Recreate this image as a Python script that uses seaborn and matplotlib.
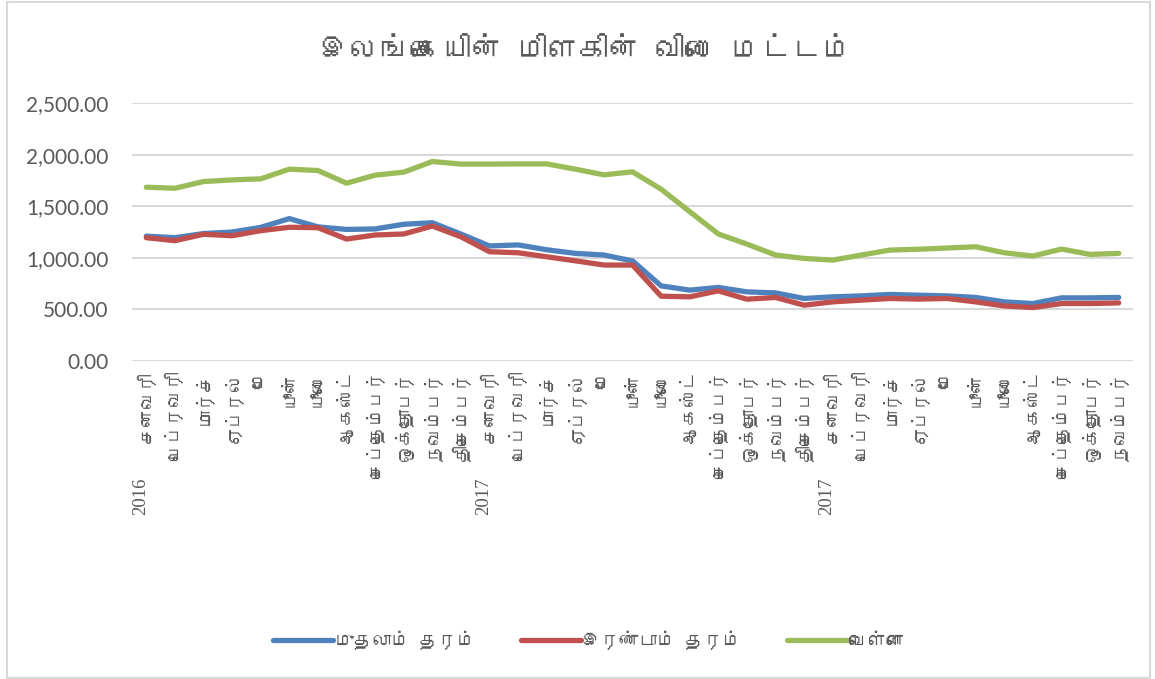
import numpy as np
import pandas as pd
import matplotlib
matplotlib.use('Agg')
import matplotlib.pyplot as plt
import seaborn as sns
from matplotlib import font_manager
from matplotlib.ft2font import FT2Font
from matplotlib.patches import Rectangle

# 数据
months_2016 = ['சனவரி', 'பெப்ரவரி', 'மார்ச்', 'ஏப்ரல்', 'மே', 'யூன்', 'யூலை',
               'ஆகஸ்ட்', 'செப்தெம்பர்', 'ஒக்தோபர்', 'நவம்பர்', 'திசெம்பர்']
months_2017 = list(months_2016)
months_2018 = months_2016[:11]
year_labels = ['2016', '2017', '2017']

grade1 = [1210, 1195, 1235, 1250, 1295, 1380, 1300, 1275, 1280, 1325, 1340, 1230,
          1115, 1125, 1078, 1043, 1027, 970, 728, 687, 713, 670, 660, 606,
          622, 631, 645, 638, 631, 616, 573, 557, 612, 612, 616]
grade2 = [1195, 1166, 1228, 1214, 1263, 1296, 1292, 1182, 1221, 1231, 1308, 1204,
          1059, 1049, 1010, 971, 930, 930, 628, 622, 680, 599, 616, 541,
          573, 590, 606, 600, 606, 573, 534, 518, 557, 557, 563]
white = [1684, 1674, 1739, 1755, 1765, 1859, 1846, 1723, 1801, 1830, 1933, 1908,
         1908, 1910, 1910, 1859, 1804, 1833, 1665, 1447, 1231, 1133, 1027, 994,
         978, 1027, 1075, 1083, 1095, 1107, 1049, 1017, 1085, 1033, 1043]

series_names = ['முதலாம் தரம்', 'இரண்டாம் தரம்', 'வெள்ளை']
colors = ['#4F81BD', '#C0504D', '#9BBB59']
title = 'இலங்கையின் மிளகின் விலை மட்டம்'


def find_tamil_font():
    # 找一个含泰米尔字形的字体
    for f in font_manager.fontManager.ttflist:
        try:
            if 0x0B95 in FT2Font(f.fname).get_charmap():
                return f.name
        except Exception:
            pass
    return None


sns.set_theme(style='whitegrid')
tamil = find_tamil_font()
families = ([tamil] if tamil else []) + ['Lato', 'DejaVu Sans']
plt.rcParams['font.family'] = families

month_labels = months_2016 + months_2017 + months_2018
n = len(month_labels)
df = pd.DataFrame({
    'idx': np.tile(np.arange(n), 3),
    'value': grade1 + grade2 + white,
    'series': np.repeat(series_names, n),
})

fig = plt.figure(figsize=(11.55, 6.79), dpi=100)
ax = fig.add_axes([0.1143, 0.4683, 0.8667, 0.3800])

sns.lineplot(data=df, x='idx', y='value', hue='series', hue_order=series_names,
             palette=colors, linewidth=3.8, ax=ax, legend=False,
             solid_capstyle='round', solid_joinstyle='round')

ax.set_xlim(-0.5, n - 0.5)
ax.set_ylim(0, 2500)
ax.set_yticks(np.arange(0, 2501, 500))
ax.set_yticklabels([f'{v:,.2f}' for v in np.arange(0, 2501, 500)],
                   fontsize=15, color='#595959', family=['Lato', 'DejaVu Sans'])
ax.set_xticks(np.arange(n))
ax.set_xticklabels(month_labels, rotation=90, fontsize=13, color='#595959',
                   va='top', ha='center')
ax.tick_params(axis='y', length=0, pad=17)
ax.tick_params(axis='x', length=0, pad=7)
ax.set_xlabel('')
ax.set_ylabel('')
ax.grid(axis='x', visible=False)
ax.grid(axis='y', color='#d9d9d9', linewidth=1.5)
for s in ax.spines.values():
    s.set_visible(False)
ax.set_facecolor('white')

# 年份标签
for k, yr in enumerate(year_labels):
    ax.text(k * 12 - 0.2, -0.45, yr, rotation=90, fontsize=13.5, color='#595959',
            ha='center', va='top', transform=ax.get_xaxis_transform(),
            family=['Liberation Serif', 'DejaVu Serif'])

fig.text(0.507, 0.926, title, ha='center', va='center', fontsize=22, color='#595959')

# 图例
handles = [plt.Line2D([0], [0], color=c, lw=3.8, solid_capstyle='round') for c in colors]
fig.legend(handles, series_names, loc='center', bbox_to_anchor=(0.51, 0.057), ncol=3,
           frameon=False, fontsize=13.5, handlelength=3.2, handletextpad=0.1,
           columnspacing=2.4, labelcolor='#595959')

fig.patches.append(Rectangle((0.006, 0.002), 0.99, 0.995, transform=fig.transFigure,
                             fill=False, edgecolor='#d9d9d9', linewidth=1.5))

fig.savefig('out.png', dpi=100, facecolor='white')
